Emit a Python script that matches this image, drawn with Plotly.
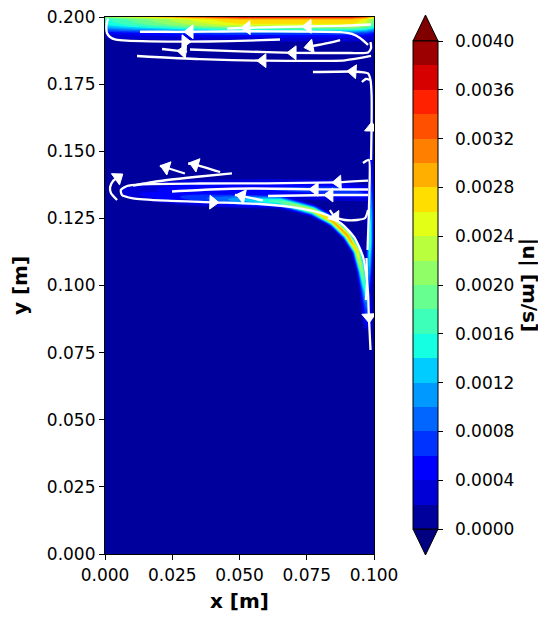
import numpy as np
import plotly.graph_objects as go

# ---------------- data ----------------
x_ticks = [0.0, 0.025, 0.05, 0.075, 0.1]
y_ticks = [0.0, 0.025, 0.05, 0.075, 0.1, 0.125, 0.15, 0.175, 0.2]
cbar_ticks = [0.0, 0.0004, 0.0008, 0.0012, 0.0016, 0.002, 0.0024, 0.0028, 0.0032, 0.0036, 0.004]
level_start, level_end, level_step = 0.0, 0.004, 0.0002

# surface layer (top of the box): |u| versus depth below y = 0.2, and its strength along x
top_depth = [0.0, 0.0005, 0.001, 0.002, 0.003, 0.004, 0.005, 0.006, 0.0075, 0.0095, 0.013]
top_speed = [0.0038, 0.0031, 0.0028, 0.0027, 0.0025, 0.0020, 0.0014, 0.0008, 0.0004, 0.00015, 0.0]
top_gain_x = [0.0, 0.004, 0.01, 0.02, 0.03, 0.04, 0.05, 0.092, 0.097, 0.1]
top_gain = [0.55, 0.6, 0.66, 0.75, 0.85, 0.93, 1.0, 1.0, 0.9, 0.7]

# curved intrusion jet: centre line, peak |u| and half width
mid_x = [0.0056, 0.0130, 0.0279, 0.0428, 0.0539, 0.0651, 0.0773, 0.0848, 0.0900, 0.0937, 0.0955, 0.0967, 0.0972, 0.0976]
mid_y = [0.1356, 0.1341, 0.1330, 0.1322, 0.1318, 0.1313, 0.1279, 0.1238, 0.1188, 0.1129, 0.1054, 0.0983, 0.0927, 0.0853]
mid_speed = [0.0002, 0.0004, 0.0006, 0.0009, 0.0013, 0.0018, 0.0025, 0.0029, 0.0030, 0.0027, 0.0021, 0.0015, 0.0009, 0.0004]
mid_width = [0.0025, 0.0028, 0.0028, 0.0025, 0.0022, 0.0018, 0.0015, 0.0014, 0.0014, 0.0014, 0.0014, 0.0015, 0.0016, 0.0018]

# weak recirculation layer above the jet
rec_x = [0.008, 0.03, 0.06, 0.085, 0.096]
rec_y = [0.1352, 0.1360, 0.1360, 0.1355, 0.1345]
rec_speed = [0.0003, 0.0005, 0.0006, 0.0007, 0.0006]
rec_width = [0.003, 0.0035, 0.0035, 0.0035, 0.003]

# thin layer along the right wall
wall_x = [0.0988, 0.0988, 0.0987, 0.0985, 0.0982, 0.0978]
wall_y = [0.150, 0.138, 0.126, 0.116, 0.106, 0.096]
wall_speed = [0.0004, 0.0007, 0.0014, 0.0017, 0.0012, 0.0005]
wall_width = [0.0009, 0.001, 0.001, 0.001, 0.001, 0.001]

background_speed = 1e-5

# streamlines (x, y in m, in flow order) and the vertices that carry an arrow head
sl_top_return_x = [0.0989, 0.0874, 0.0755, 0.0528, 0.0454]
sl_top_return_y = [0.1972, 0.1967, 0.1965, 0.1960, 0.1957]
sl_top_return_arrows = [2, 3]

sl_upper_x = [0.0978, 0.0948, 0.0918, 0.0874, 0.0725, 0.0539, 0.0439, 0.0316, 0.0223, 0.0130]
sl_upper_y = [0.1896, 0.1922, 0.1937, 0.1944, 0.1946, 0.1947, 0.1946, 0.1945, 0.1945, 0.1945]
sl_upper_arrows = [7]

sl_corner_x = [0.00112, 0.00056, 0.00074, 0.00186, 0.00409, 0.00818, 0.01673, 0.02974, 0.04647, 0.06506]
sl_corner_y = [0.19944, 0.19702, 0.19404, 0.19255, 0.19155, 0.19117, 0.19095, 0.1908, 0.19099, 0.19162]
sl_corner_arrows = [7]

sl_hook_x = [0.0874, 0.0836, 0.0792, 0.0762]
sl_hook_y = [0.19143, 0.1905, 0.18957, 0.18901]
sl_hook_arrows = [3]

sl_band1_x = [0.0987, 0.0989, 0.0978, 0.0911, 0.0699, 0.0502, 0.0316]
sl_band1_y = [0.19069, 0.18845, 0.18678, 0.18659, 0.18667, 0.18722, 0.1879]
sl_band1_arrows = [4]

sl_short1_x = [0.0305, 0.0290, 0.0212]
sl_short1_y = [0.18708, 0.18722, 0.18808]
sl_short1_arrows = [1]

sl_band2_x = [0.0989, 0.0892, 0.0587, 0.0353, 0.0119]
sl_band2_y = [0.18548, 0.18387, 0.18373, 0.18428, 0.18548]
sl_band2_arrows = [2]

sl_wall_up_x = [0.0989, 0.0991, 0.0991, 0.0987, 0.0978, 0.0948, 0.0922, 0.0773]
sl_wall_up_y = [0.14674, 0.15866, 0.17095, 0.17654, 0.17896, 0.17952, 0.1797, 0.17952]
sl_wall_up_arrows = [1, 6]

sl_nub_x = [0.0955, 0.0970, 0.0985]
sl_nub_y = [0.17579, 0.17691, 0.17654]
sl_nub_arrows = []

sl_outer_x = [0.0978, 0.0866, 0.0602, 0.0353, 0.0130, 0.0082, 0.0059, 0.0063, 0.0104, 0.0230, 0.0401,
              0.0576, 0.0725, 0.0825, 0.0885, 0.0929, 0.0959, 0.0972, 0.0978, 0.0980, 0.0981, 0.0987]
sl_outer_y = [0.13903, 0.13844, 0.13806, 0.13799, 0.13769, 0.13706, 0.13557, 0.13371, 0.13248, 0.13158, 0.13099,
              0.13035, 0.12875, 0.12626, 0.12253, 0.11758, 0.11073, 0.10328, 0.09709, 0.09088, 0.08827, 0.07598]
sl_outer_arrows = [1, 10, 20]

sl_inner1_x = [0.0978, 0.0781, 0.0550, 0.0390, 0.0249]
sl_inner1_y = [0.13575, 0.13583, 0.13612, 0.13575, 0.13500]
sl_inner1_arrows = [1]

sl_inner2_x = [0.0978, 0.0836, 0.0606]
sl_inner2_y = [0.13371, 0.13371, 0.13333]
sl_inner2_arrows = [1]

sl_inner3_x = [0.0587, 0.0509, 0.0483]
sl_inner3_y = [0.13166, 0.13333, 0.13371]
sl_inner3_arrows = [1]

sl_stub1_x = [0.0297, 0.0227, 0.0204]
sl_stub1_y = [0.14171, 0.14395, 0.14451]
sl_stub1_arrows = [1]

sl_stub2_x = [0.0428, 0.0335, 0.0309]
sl_stub2_y = [0.14227, 0.14506, 0.14544]
sl_stub2_arrows = [1]

sl_rise_x = [0.0104, 0.0204, 0.0353, 0.0472]
sl_rise_y = [0.13724, 0.13892, 0.1406, 0.14179]
sl_rise_arrows = []

sl_left_x = [0.0045, 0.0022, 0.0019, 0.0030, 0.0048]
sl_left_y = [0.13184, 0.13445, 0.13669, 0.13892, 0.14022]
sl_left_arrows = [4]

sl_eddy_x = [0.0836, 0.0855, 0.0892, 0.0937, 0.0967, 0.0978]
sl_eddy_y = [0.12812, 0.12551, 0.1244, 0.1244, 0.12514, 0.12812]
sl_eddy_arrows = [1]

sl_wall_mid_x = [0.0959, 0.0981, 0.0983, 0.0980, 0.0976]
sl_wall_mid_y = [0.14562, 0.14674, 0.13557, 0.1244, 0.11322]
sl_wall_mid_arrows = []

sl_wall_low_x = [0.0972, 0.0974, 0.0970]
sl_wall_low_y = [0.11024, 0.10205, 0.0946]
sl_wall_low_arrows = []

streamlines = [
    (sl_top_return_x, sl_top_return_y, sl_top_return_arrows),
    (sl_upper_x, sl_upper_y, sl_upper_arrows),
    (sl_corner_x, sl_corner_y, sl_corner_arrows),
    (sl_hook_x, sl_hook_y, sl_hook_arrows),
    (sl_band1_x, sl_band1_y, sl_band1_arrows),
    (sl_short1_x, sl_short1_y, sl_short1_arrows),
    (sl_band2_x, sl_band2_y, sl_band2_arrows),
    (sl_wall_up_x, sl_wall_up_y, sl_wall_up_arrows),
    (sl_nub_x, sl_nub_y, sl_nub_arrows),
    (sl_outer_x, sl_outer_y, sl_outer_arrows),
    (sl_inner1_x, sl_inner1_y, sl_inner1_arrows),
    (sl_inner2_x, sl_inner2_y, sl_inner2_arrows),
    (sl_inner3_x, sl_inner3_y, sl_inner3_arrows),
    (sl_stub1_x, sl_stub1_y, sl_stub1_arrows),
    (sl_stub2_x, sl_stub2_y, sl_stub2_arrows),
    (sl_rise_x, sl_rise_y, sl_rise_arrows),
    (sl_left_x, sl_left_y, sl_left_arrows),
    (sl_eddy_x, sl_eddy_y, sl_eddy_arrows),
    (sl_wall_mid_x, sl_wall_mid_y, sl_wall_mid_arrows),
    (sl_wall_low_x, sl_wall_low_y, sl_wall_low_arrows),
]

# ---------------- colour map (matplotlib "jet") ----------------
JET_R = ([0, 0.35, 0.66, 0.89, 1.0], [0, 0, 1, 1, 0.5])
JET_G = ([0, 0.125, 0.375, 0.64, 0.91, 1.0], [0, 0, 1, 1, 0, 0])
JET_B = ([0, 0.11, 0.34, 0.65, 1.0], [0.5, 1, 1, 0, 0])


def jet(v):
    r = np.interp(v, *JET_R)
    g = np.interp(v, *JET_G)
    b = np.interp(v, *JET_B)
    return "rgb(%d,%d,%d)" % (round(r * 255), round(g * 255), round(b * 255))


n_bands = int(round((level_end - level_start) / level_step))
band_colors = [jet((i + 0.5) / n_bands) for i in range(n_bands)]
under_color, over_color = jet(0.0), jet(1.0)

# contour fill: plotly samples the scale at k/(n_bands+1), k = 0 .. n_bands+1
all_colors = [under_color] + band_colors + [over_color]
contour_scale = [[k / (len(all_colors) - 1), c] for k, c in enumerate(all_colors)]
# stepped scale for the colour bar
cbar_scale = []
for i, c in enumerate(band_colors):
    cbar_scale.append([i / n_bands, c])
    cbar_scale.append([(i + 1) / n_bands, c])

# ---------------- field on a grid ----------------
gx = np.linspace(0.0, 0.1, 251)
gy = np.concatenate([[0.0, 0.03, 0.06], np.linspace(0.07, 0.2, 521)])
X, Y = np.meshgrid(gx, gy)


def ridge(xs, ys, sp, wd):
    out = np.zeros_like(X)
    for i in range(len(xs) - 1):
        ax, ay, bx, by = xs[i], ys[i], xs[i + 1], ys[i + 1]
        dx, dy = bx - ax, by - ay
        t = np.clip(((X - ax) * dx + (Y - ay) * dy) / (dx * dx + dy * dy), 0, 1)
        d = np.hypot(X - (ax + t * dx), Y - (ay + t * dy))
        s = sp[i] + t * (sp[i + 1] - sp[i])
        w = wd[i] + t * (wd[i + 1] - wd[i])
        out = np.maximum(out, s * np.exp(-(d / w) ** 2))
    return out


field = np.interp(0.2 - Y, top_depth, top_speed) * np.interp(X, top_gain_x, top_gain)
field = np.maximum(field, ridge(mid_x, mid_y, mid_speed, mid_width))
field = np.maximum(field, ridge(rec_x, rec_y, rec_speed, rec_width))
field = np.maximum(field, ridge(wall_x, wall_y, wall_speed, wall_width))
field = np.maximum(field, background_speed)
field = np.round(field, 7)

# ---------------- figure ----------------
PAGE = 8                      # the page body adds an 8 px margin around the figure
W, H = 546 - PAGE, 617 - PAGE
ML, MT = 105 - PAGE, 17 - PAGE
PW, PH = 269, 537
MR, MB = W - ML - PW, H - MT - PH
FONT = "DejaVu Sans"


def px_x(p):
    return (p - PAGE - ML) / PW


def px_y(p):
    return (MT + PH - (p - PAGE)) / PH


fig = go.Figure()
fig.add_trace(go.Contour(
    x=gx, y=gy, z=field,
    colorscale=contour_scale, showscale=False,
    autocontour=False,
    contours=dict(start=level_start, end=level_end, size=level_step, coloring="fill", showlines=False),
    line=dict(width=0), hoverinfo="skip",
))

for xs, ys, arrows in streamlines:
    sizes = [12 if i in arrows else 0 for i in range(len(xs))]
    fig.add_trace(go.Scatter(
        x=xs, y=ys, mode="lines+markers",
        line=dict(color="white", width=2.3, shape="spline", smoothing=0.6),
        marker=dict(symbol="triangle-up", size=sizes, color="white", angleref="previous",
                    opacity=1, line=dict(width=1, color="white")),
        hoverinfo="skip", showlegend=False,
    ))

# colour bar
cb_top, cb_bot, cb_left, cb_w, tri_h = 41, 529, 413, 25, 26
fig.add_trace(go.Scatter(
    x=[None], y=[None], mode="markers", hoverinfo="skip", showlegend=False,
    marker=dict(
        color=[0.0], cmin=level_start, cmax=level_end, colorscale=cbar_scale, showscale=True,
        colorbar=dict(
            x=px_x(cb_left), xanchor="left", xref="paper", xpad=0,
            y=px_y((cb_top + cb_bot) / 2), yanchor="middle", yref="paper", ypad=0,
            len=cb_bot - cb_top, lenmode="pixels", thickness=cb_w, thicknessmode="pixels",
            outlinewidth=1, outlinecolor="black",
            tickmode="array", tickvals=cbar_ticks,
            ticktext=["\u2002%.4f" % v for v in cbar_ticks],
            ticks="outside", ticklen=5, tickwidth=1, tickcolor="black",
            tickfont=dict(family=FONT, size=17, color="black"),
        ),
    ),
))

x0, x1, xm = px_x(cb_left), px_x(cb_left + cb_w), px_x(cb_left + cb_w / 2)
shapes = [
    dict(type="path", xref="paper", yref="paper",
         path=f"M {x0},{px_y(cb_top)} L {x1},{px_y(cb_top)} L {xm},{px_y(cb_top - tri_h)} Z",
         fillcolor=over_color, line=dict(color="black", width=1)),
    dict(type="path", xref="paper", yref="paper",
         path=f"M {x0},{px_y(cb_bot)} L {x1},{px_y(cb_bot)} L {xm},{px_y(cb_bot + tri_h)} Z",
         fillcolor=under_color, line=dict(color="black", width=1)),
]

axis_common = dict(
    showline=True, linecolor="black", linewidth=1.2, mirror=True,
    ticks="outside", ticklen=5, tickwidth=1.2, tickcolor="black",
    tickfont=dict(family=FONT, size=17, color="black"),
    ticklabeloverflow="allow",
    showgrid=False, zeroline=False,
)

fig.update_layout(
    width=W, height=H,
    margin=dict(l=ML, r=MR, t=MT, b=MB, autoexpand=False),
    paper_bgcolor="white", plot_bgcolor="white",
    showlegend=False,
    xaxis=dict(range=[0, 0.1], tickmode="array", tickvals=x_ticks,
               ticktext=["%.3f" % v for v in x_ticks],
               title=dict(text="<b>x [m]</b>", font=dict(family=FONT, size=20, color="black"), standoff=10),
               **axis_common),
    yaxis=dict(range=[0, 0.2], tickmode="array", tickvals=y_ticks,
               ticktext=["%.3f" % v for v in y_ticks],
               title=dict(text="<b>y [m]</b>", font=dict(family=FONT, size=20, color="black"), standoff=15),
               **axis_common),
    shapes=shapes,
    annotations=[dict(
        text="<b>|u| [m/s]</b>", textangle=90, showarrow=False,
        xref="paper", yref="paper", x=px_x(530), y=px_y(285),
        xanchor="center", yanchor="middle",
        font=dict(family=FONT, size=20, color="black"),
    )],
)

fig.write_html("out.html")
